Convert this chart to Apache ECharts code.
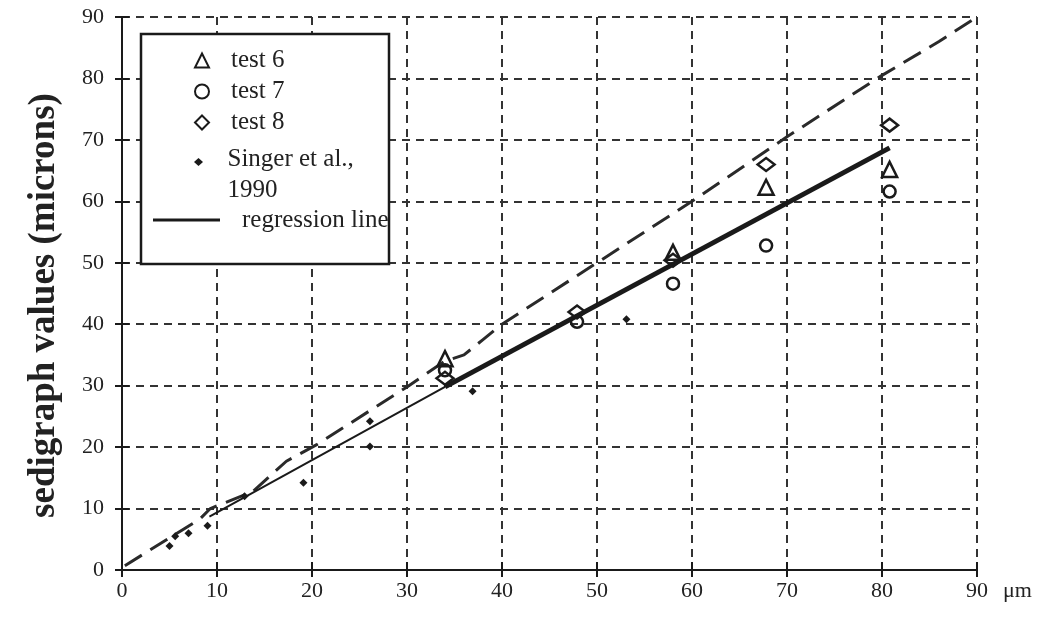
<!DOCTYPE html>
<html>
<head>
<meta charset="utf-8">
<script src="https://cdn.jsdelivr.net/npm/echarts@6/dist/echarts.min.js"></script>
<style>
html,body{margin:0;padding:0;background:#fff;}
#chart{width:1042px;height:617px;}
</style>
</head>
<body>
<div id="chart"></div>
<script>
// ---- data ----
const xTickValues = [0, 10, 20, 30, 40, 50, 60, 70, 80, 90];
const yTickValues = [0, 10, 20, 30, 40, 50, 60, 70, 80, 90];
const xUnit = 'μm';
const yTitle = 'sedigraph values (microns)';

const test6 = [[34, 34.4], [58, 51.7], [67.8, 62.3], [80.8, 65.2]];
const test7 = [[34, 32.5], [47.9, 40.4], [58, 46.6], [67.8, 52.8], [80.8, 61.6]];
const test8 = [[34, 31.2], [47.9, 42.0], [58, 50.4], [67.8, 66.0], [80.8, 72.4]];
const singer = [[5.0, 3.9], [5.6, 5.5], [7.0, 6.0], [9.0, 7.2], [12.9, 12.0], [19.1, 14.2],
                [26.1, 24.2], [26.1, 20.1], [36.9, 29.1], [53.1, 40.8]];
const regressionThin = [[9.2, 8.7], [34, 29.8]];
const regressionThick = [[34, 29.8], [80.8, 68.7]];
const dashedCurve = [[0.3, 0.7], [8.2, 8.3], [9.3, 10.0], [13.8, 12.8], [17.3, 17.7], [20.5, 20.4],
                     [30, 29.8], [34, 34], [36, 35], [38, 37.5], [40, 40], [50, 50], [60, 60],
                     [70, 70.5], [80, 80.5], [86, 86], [90, 90]];

const FONT = '"Liberation Serif", "DejaVu Serif", serif';
const INK = '#1a1a1a';

const chart = echarts.init(document.getElementById('chart'), null, {renderer: 'canvas'});

const axisCommon = {type: 'value', min: 0, max: 90, interval: 10};
const gridDash = {show: true, lineStyle: {color: '#333', type: [8, 6], width: 2}};
const legendText = {fontFamily: FONT, fontSize: 25, lineHeight: 31, color: '#222', padding: [0, 0, 0, 17]};
const markerStyle = {color: 'rgba(255,255,255,0)', borderColor: INK, borderWidth: 2.5, opacity: 1};
// small diamond placed at the top of a tall icon box so it sits beside the first text line
const singerIcon = 'path://M0,14L4.5,18L0,22L-4.5,18Z M0,0 M0,62';

const option = {
  backgroundColor: '#fff',
  animation: false,
  grid: {left: 122, right: 65, top: 17, bottom: 47, containLabel: false},
  xAxis: [
    Object.assign({}, axisCommon, {
      position: 'bottom',
      axisLine: {show: true, lineStyle: {color: INK, width: 2}},
      axisTick: {show: true, inside: false, length: 4, lineStyle: {color: INK, width: 2}},
      axisLabel: {show: true, margin: 10, fontFamily: FONT, fontSize: 22, color: '#222',
        formatter: v => xTickValues.includes(v) ? String(v) : ''},
      splitLine: gridDash
    }),
    Object.assign({}, axisCommon, {
      position: 'bottom',
      axisLine: {show: false},
      axisTick: {show: true, inside: true, length: 8, lineStyle: {color: INK, width: 2}},
      axisLabel: {show: false}, splitLine: {show: false}
    }),
    Object.assign({}, axisCommon, {
      position: 'top',
      axisLine: {show: true, lineStyle: {color: INK, width: 2}},
      axisTick: {show: true, inside: true, length: 7, lineStyle: {color: INK, width: 2}},
      axisLabel: {show: false}, splitLine: {show: false}
    })
  ],
  yAxis: [
    Object.assign({}, axisCommon, {
      position: 'left',
      name: yTitle,
      nameLocation: 'middle',
      nameGap: 59,
      nameTextStyle: {fontFamily: FONT, fontSize: 37, fontWeight: 'bold', color: '#222', padding: [0, 24, 0, 0]},
      axisLine: {show: true, lineStyle: {color: INK, width: 2}},
      axisTick: {show: true, inside: false, length: 7, lineStyle: {color: INK, width: 2}},
      axisLabel: {show: true, margin: 18, fontFamily: FONT, fontSize: 22, color: '#222',
        formatter: v => yTickValues.includes(v) ? String(v) : ''},
      splitLine: gridDash
    }),
    Object.assign({}, axisCommon, {
      position: 'left',
      axisLine: {show: false},
      axisTick: {show: true, inside: true, length: 7, lineStyle: {color: INK, width: 2}},
      axisLabel: {show: false}, splitLine: {show: false}
    }),
    Object.assign({}, axisCommon, {
      position: 'right',
      axisLine: {show: true, lineStyle: {color: INK, width: 2}},
      axisTick: {show: false},
      axisLabel: {show: false}, splitLine: {show: false}
    })
  ],
  legend: [
    {
      data: ['test 6', 'test 7', 'test 8'],
      orient: 'vertical', left: 194, top: 45, padding: 0,
      itemWidth: 14, itemHeight: 14, itemGap: 0,
      textStyle: legendText,
      selectedMode: false, z: 10
    },
    {
      data: [{name: 'Singer et al., 1990', icon: singerIcon}],
      orient: 'vertical', left: 194, top: 144, padding: 0,
      itemWidth: 14, itemHeight: 62, itemGap: 0,
      textStyle: legendText,
      formatter: n => 'Singer et al.,\n1990',
      selectedMode: false, z: 10
    },
    {
      data: [{name: 'regression line', icon: 'rect'}],
      orient: 'vertical', left: 153, top: 204, padding: 0,
      itemWidth: 67, itemHeight: 3, itemGap: 0,
      itemStyle: {color: INK},
      textStyle: Object.assign({}, legendText, {lineHeight: 32}),
      selectedMode: false, z: 10
    }
  ],
  graphic: [
    {
      type: 'rect', z: 5,
      shape: {x: 141, y: 34, width: 248, height: 230},
      style: {fill: '#fff', stroke: INK, lineWidth: 2.5}
    },
    {
      type: 'text', left: 1003, top: 580, z: 5,
      style: {text: xUnit, font: '22px ' + FONT, fill: '#222'}
    }
  ],
  series: [
    {
      type: 'line', name: 'dashed', data: dashedCurve, showSymbol: false, symbol: 'none',
      lineStyle: {color: '#2a2a2a', width: 3, type: [20, 10]}, z: 2, silent: true
    },
    {
      type: 'line', name: 'regression line', data: regressionThin, symbol: 'none',
      lineStyle: {color: INK, width: 2}, itemStyle: {color: INK}, z: 3
    },
    {
      type: 'line', name: 'regression line', data: regressionThick, symbol: 'none',
      lineStyle: {color: INK, width: 5}, itemStyle: {color: INK}, z: 3
    },
    {
      type: 'scatter', name: 'test 6', data: test6, symbol: 'triangle', symbolSize: [15, 15],
      itemStyle: markerStyle, z: 4
    },
    {
      type: 'scatter', name: 'test 7', data: test7, symbol: 'circle', symbolSize: 12,
      itemStyle: markerStyle, z: 4
    },
    {
      type: 'scatter', name: 'test 8', data: test8, symbol: 'diamond', symbolSize: [17, 13],
      itemStyle: markerStyle, z: 4
    },
    {
      type: 'scatter', name: 'Singer et al., 1990', data: singer, symbol: 'diamond', symbolSize: [8, 8],
      itemStyle: {color: '#1a1a1a', opacity: 1}, z: 4
    }
  ]
};
chart.setOption(option);
</script>
</body>
</html>
